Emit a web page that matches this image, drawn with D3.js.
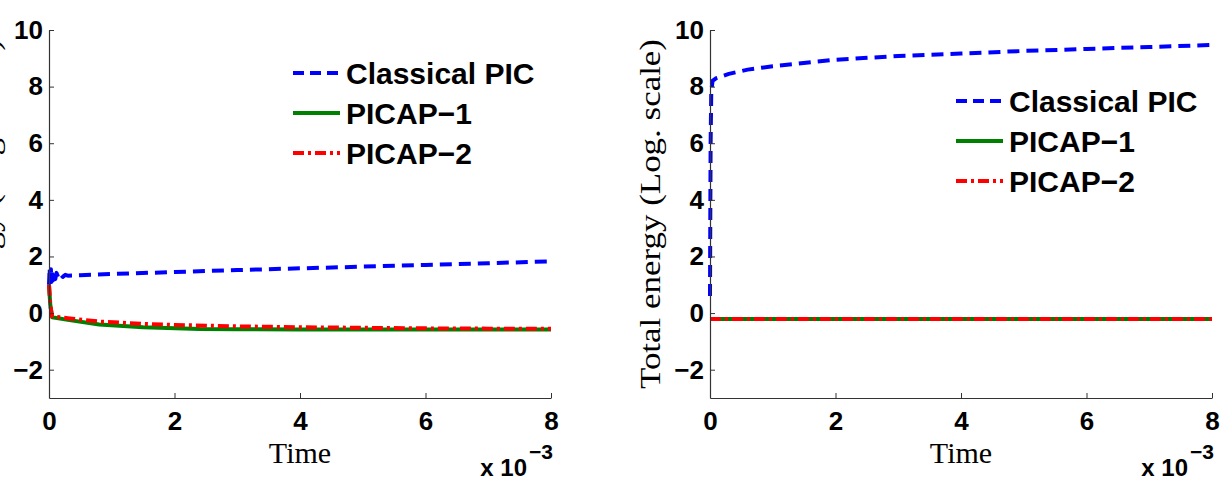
<!DOCTYPE html>
<html><head><meta charset="utf-8">
<script src="https://cdn.jsdelivr.net/npm/d3@7"></script>
<style>body{margin:0;background:#fff}svg{display:block}</style>
</head><body>
<svg id="c" width="1224" height="483"></svg>
<script>
// ---- data (time in units of 1e-3) ----
const seriesNames = ["Classical PIC", "PICAP\u22121", "PICAP\u22122"];
const xTicks = [0, 2, 4, 6, 8];
const yTicks = [-2, 0, 2, 4, 6, 8, 10];

// Left panel
const leftClassicalT = [0,0.01,0.02,0.03,0.04,0.05,0.06,0.08,0.10,0.12,0.15,0.18,0.22,0.26,0.3,0.5,1,2,3,4,5,6,7,8];
const leftClassicalV = [1.0,1.6,1.05,1.55,1.1,1.5,1.15,1.45,1.2,1.42,1.25,1.38,1.28,1.35,1.32,1.34,1.38,1.45,1.52,1.58,1.64,1.70,1.76,1.83];
const leftPicap1T = [0,0.02,0.05,0.3,0.8,1.5,2.4,3,4,5,6,7,8];
const leftPicap1V = [1.0,0.3,-0.15,-0.24,-0.4,-0.5,-0.56,-0.57,-0.58,-0.58,-0.58,-0.58,-0.58];
const leftPicap2T = [0,0.02,0.05,0.3,0.8,1.5,2,3,4,5,6,7,8];
const leftPicap2V = [1.0,0.3,-0.12,-0.18,-0.3,-0.38,-0.42,-0.47,-0.5,-0.52,-0.54,-0.55,-0.55];

// Right panel
const rightClassicalT = [0,0.005,0.01,0.02,0.04,0.1,0.3,0.6,1,2,3,4,5,6,7,8];
const rightClassicalV = [0.6,3.5,6.0,7.8,8.2,8.3,8.45,8.6,8.72,8.95,9.08,9.17,9.26,9.33,9.4,9.47];
const rightPicap1T = [0,2,4,6,8];
const rightPicap1V = [-0.21,-0.21,-0.21,-0.21,-0.21];
const rightPicap2T = [0,2,4,6,8];
const rightPicap2V = [-0.21,-0.21,-0.21,-0.21,-0.21];

const colors = ["#0000ff", "#008000", "#ff0000"];
const dashes = ["12,7", null, "11,4,3,4"];
const legendDashes = ["11,6", null, "11,4,3,4"];

const svg = d3.select("#c");

function panel(x0, x1, series, legendX, legendY, yLabelX) {
  const x = d3.scaleLinear().domain([0, 8]).range([x0, x1]);
  const y = d3.scaleLinear().domain([-3, 10]).range([398, 30]);
  const g = svg.append("g");

  const line = d3.line().x(d => x(d[0])).y(d => y(d[1]));
  series.forEach((s, i) => {
    const pts = s.t.map((t, k) => [t, s.v[k]]);
    g.append("path").datum(pts).attr("d", line)
      .attr("fill", "none").attr("stroke", colors[i]).attr("stroke-width", 4)
      .attr("stroke-dasharray", dashes[i]).attr("stroke-linejoin", "round");
  });

  const ax = g.append("g").attr("transform", `translate(0,398)`)
    .call(d3.axisBottom(x).tickValues(xTicks).tickSizeInner(-5).tickSizeOuter(0).tickPadding(14).tickFormat(d3.format("d")));
  const ay = g.append("g").attr("transform", `translate(${x0},0)`)
    .call(d3.axisLeft(y).tickValues(yTicks).tickSizeInner(-5).tickSizeOuter(0).tickPadding(6).tickFormat(d3.format("d")));
  [ax, ay].forEach(a => {
    a.select(".domain").attr("stroke", "#333").attr("stroke-width", 1.2);
    a.selectAll(".tick line").attr("stroke", "#333");
    a.selectAll("text").attr("font-family", "Liberation Sans, Arial, sans-serif")
      .attr("font-weight", "bold").attr("font-size", 26).attr("fill", "#000");
  });

  // x label
  g.append("text").attr("x", (x0 + x1) / 2).attr("y", 463).attr("text-anchor", "middle")
    .attr("font-family", "Liberation Serif, Times New Roman, serif").attr("font-size", 30).text("Time");
  // multiplier
  g.append("text").attr("x", x1 - 24).attr("y", 476).attr("text-anchor", "end")
    .attr("font-family", "Liberation Sans, Arial, sans-serif").attr("font-weight", "bold").attr("font-size", 24).text("x 10");
  g.append("text").attr("x", x1 + 2).attr("y", 459).attr("text-anchor", "end")
    .attr("font-family", "Liberation Sans, Arial, sans-serif").attr("font-weight", "bold").attr("font-size", 21).text("\u22123");

  // y label
  g.append("text").attr("transform", `translate(${yLabelX},214) rotate(-90)`).attr("text-anchor", "middle")
    .attr("font-family", "Liberation Serif, Times New Roman, serif").attr("font-size", 29)
    .attr("textLength", 350).attr("lengthAdjust", "spacingAndGlyphs")
    .text("Total energy (Log. scale)");

  // legend
  seriesNames.forEach((nm, i) => {
    const ly = legendY + i * 40;
    g.append("line").attr("x1", legendX).attr("x2", legendX + 47).attr("y1", ly).attr("y2", ly)
      .attr("stroke", colors[i]).attr("stroke-width", 4).attr("stroke-dasharray", legendDashes[i]);
    g.append("text").attr("x", legendX + 53).attr("y", ly + 11)
      .attr("font-family", "Liberation Sans, Arial, sans-serif").attr("font-weight", "bold").attr("font-size", 30).text(nm);
  });
}

panel(49, 551, [
  {t: leftClassicalT, v: leftClassicalV},
  {t: leftPicap1T, v: leftPicap1V},
  {t: leftPicap2T, v: leftPicap2V}
], 293, 73, -1);

panel(710, 1212, [
  {t: rightClassicalT, v: rightClassicalV},
  {t: rightPicap1T, v: rightPicap1V},
  {t: rightPicap2T, v: rightPicap2V}
], 956, 101, 660);
</script>
</body></html>
